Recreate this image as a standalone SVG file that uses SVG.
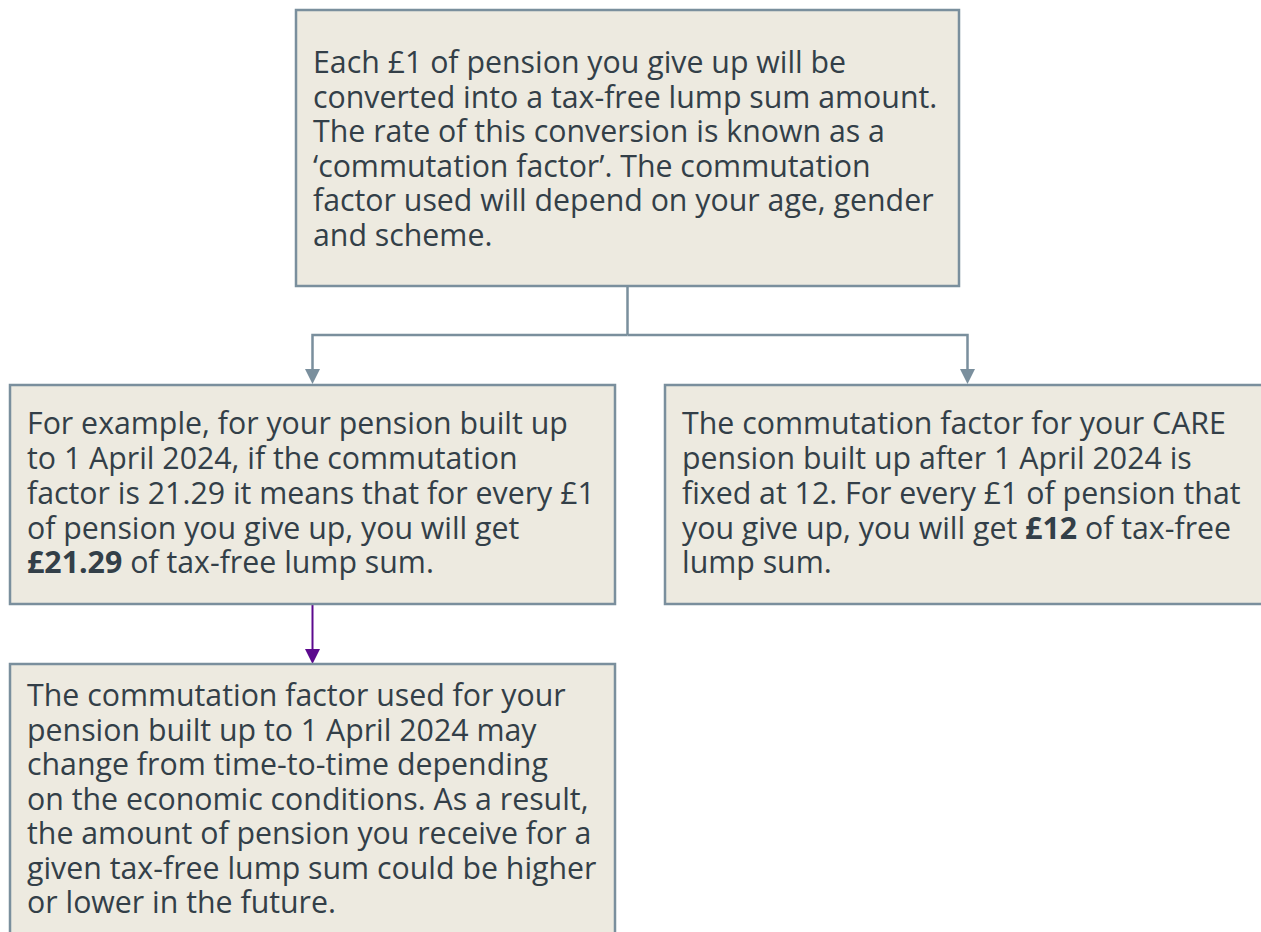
<svg xmlns="http://www.w3.org/2000/svg" width="1261" height="932" viewBox="0 0 1261 932">
<defs>
<style>
.box{fill:#edeae0;stroke:#7a8f9d;stroke-width:2.5}
.t{font-family:"Open Sans","Noto Sans",sans-serif;font-size:30.3px;fill:#333f48}
.b{font-weight:bold}
.c{fill:none;stroke:#7a8f9d;stroke-width:2.5}
.p{fill:none;stroke:#5c0a8e;stroke-width:2}
</style>
</defs>
<rect width="1261" height="932" fill="#ffffff"/>
<g id="connectors">
<path class="c" d="M627.5,286 V335"/>
<path class="c" d="M627.5,335 H312.5 V370"/>
<path class="c" d="M627.5,335 H967.5 V370"/>
<path d="M305,369 L320,369 L312.5,384 Z" fill="#7a8f9d"/>
<path d="M960,369 L975,369 L967.5,384 Z" fill="#7a8f9d"/>
<path class="p" d="M312.5,604 V650"/>
<path d="M305,649 L320,649 L312.5,664 Z" fill="#5c0a8e"/>
</g>
<g id="node-top">
<rect class="box" x="296" y="10" width="663" height="276"/>
<text class="t"><tspan x="313" y="73">Each £1 of pension you give up will be</tspan><tspan x="313" y="107.5">converted into a tax-free lump sum amount.</tspan><tspan x="313" y="142">The rate of this conversion is known as a</tspan><tspan x="313" y="176.5">‘commutation factor’. The commutation</tspan><tspan x="313" y="211">factor used will depend on your age, gender</tspan><tspan x="313" y="245.5">and scheme.</tspan></text>
</g>
<g id="node-left">
<rect class="box" x="10" y="385" width="605" height="219"/>
<text class="t"><tspan x="27" y="434">For example, for your pension built up</tspan><tspan x="27" y="469">to 1 April 2024, if the commutation</tspan><tspan x="27" y="504">factor is 21.29 it means that for every £1</tspan><tspan x="27" y="539">of pension you give up, you will get</tspan><tspan x="27" y="573" class="b">£21.29</tspan><tspan> of tax-free lump sum.</tspan></text>
</g>
<g id="node-right">
<rect class="box" x="665" y="385" width="610" height="219"/>
<text class="t"><tspan x="682" y="434">The commutation factor for your CARE</tspan><tspan x="682" y="469">pension built up after 1 April 2024 is</tspan><tspan x="682" y="504">fixed at 12. For every £1 of pension that</tspan><tspan x="682" y="539">you give up, you will get </tspan><tspan class="b">£12</tspan><tspan> of tax-free</tspan><tspan x="682" y="573">lump sum.</tspan></text>
</g>
<g id="node-bottom">
<rect class="box" x="10" y="664" width="605" height="290"/>
<text class="t"><tspan x="27" y="706">The commutation factor used for your</tspan><tspan x="27" y="740.5">pension built up to 1 April 2024 may</tspan><tspan x="27" y="775">change from time-to-time depending</tspan><tspan x="27" y="809.5">on the economic conditions. As a result,</tspan><tspan x="27" y="844">the amount of pension you receive for a</tspan><tspan x="27" y="878.5">given tax-free lump sum could be higher</tspan><tspan x="27" y="913">or lower in the future.</tspan></text>
</g>
</svg>
